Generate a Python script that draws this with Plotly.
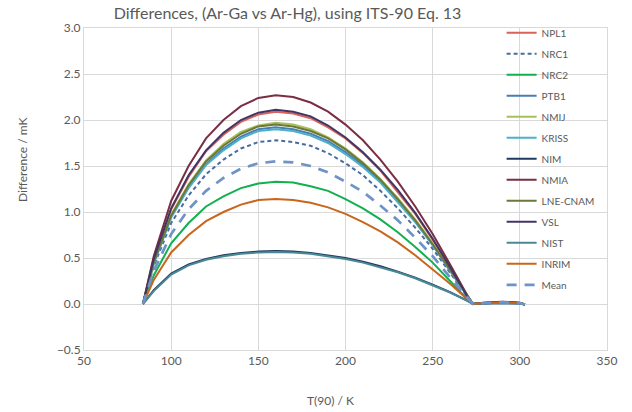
import plotly.graph_objects as go

# Temperature points, T(90) / K
T = [83.8058, 90, 100, 110, 120, 130, 140, 150, 160, 170, 180, 190, 200, 210,
     220, 230, 240, 250, 260, 270, 273.16, 280, 290, 300, 302.9146]

# Differences / mK
NPL1 = [0, 0.48, 1.03, 1.38, 1.66, 1.84, 1.98, 2.06, 2.09, 2.07, 2.02, 1.92, 1.80, 1.64,
        1.45, 1.22, 0.98, 0.70, 0.40, 0.08, 0, 0.01, 0.02, 0.01, -0.005]
NRC1 = [0, 0.41, 0.88, 1.18, 1.41, 1.57, 1.69, 1.76, 1.78, 1.76, 1.72, 1.64, 1.53, 1.40,
        1.23, 1.04, 0.83, 0.60, 0.34, 0.07, 0, 0.01, 0.02, 0.01, -0.005]
NRC2 = [0, 0.31, 0.66, 0.88, 1.06, 1.17, 1.26, 1.31, 1.33, 1.32, 1.28, 1.23, 1.14, 1.04,
        0.92, 0.78, 0.62, 0.45, 0.25, 0.05, 0, 0.01, 0.015, 0.01, -0.005]
PTB1 = [0, 0.44, 0.95, 1.27, 1.52, 1.69, 1.82, 1.90, 1.92, 1.90, 1.85, 1.77, 1.65, 1.51,
        1.33, 1.13, 0.90, 0.64, 0.36, 0.08, 0, 0.01, 0.02, 0.01, -0.005]
NMIJ = [0, 0.45, 0.97, 1.30, 1.56, 1.74, 1.87, 1.94, 1.97, 1.95, 1.90, 1.81, 1.69, 1.54,
        1.36, 1.15, 0.92, 0.66, 0.37, 0.08, 0, 0.01, 0.02, 0.01, -0.005]
KRISS = [0, 0.44, 0.94, 1.26, 1.51, 1.67, 1.80, 1.88, 1.90, 1.88, 1.83, 1.75, 1.63, 1.49,
         1.32, 1.11, 0.89, 0.64, 0.36, 0.08, 0, 0.01, 0.02, 0.01, -0.005]
NIM = [0, 0.15, 0.33, 0.43, 0.49, 0.53, 0.555, 0.57, 0.575, 0.57, 0.555, 0.53, 0.50, 0.46,
       0.41, 0.35, 0.285, 0.21, 0.13, 0.035, 0, 0.005, 0.01, 0.005, -0.005]
NMIA = [0, 0.52, 1.12, 1.50, 1.80, 2.00, 2.15, 2.24, 2.27, 2.25, 2.19, 2.09, 1.95, 1.78,
        1.57, 1.33, 1.06, 0.76, 0.43, 0.09, 0, 0.015, 0.025, 0.015, -0.005]
LNE_CNAM = [0, 0.45, 0.96, 1.29, 1.55, 1.72, 1.85, 1.93, 1.95, 1.93, 1.88, 1.80, 1.68, 1.53,
            1.35, 1.14, 0.91, 0.65, 0.37, 0.08, 0, 0.01, 0.02, 0.01, -0.005]
VSL = [0, 0.49, 1.04, 1.40, 1.67, 1.86, 2.00, 2.08, 2.11, 2.09, 2.04, 1.94, 1.81, 1.65,
       1.46, 1.24, 0.99, 0.71, 0.40, 0.08, 0, 0.01, 0.02, 0.01, -0.005]
NIST = [0, 0.14, 0.32, 0.42, 0.48, 0.52, 0.545, 0.56, 0.565, 0.56, 0.545, 0.52, 0.49, 0.45,
        0.40, 0.345, 0.28, 0.205, 0.125, 0.033, 0, 0.005, 0.01, 0.005, -0.005]
INRIM = [0, 0.26, 0.56, 0.75, 0.90, 1.00, 1.08, 1.13, 1.14, 1.13, 1.10, 1.05, 0.98, 0.89,
         0.79, 0.67, 0.53, 0.38, 0.22, 0.05, 0, 0.01, 0.015, 0.01, -0.005]
Mean = [0, 0.36, 0.76, 1.03, 1.23, 1.37, 1.47, 1.53, 1.55, 1.54, 1.50, 1.43, 1.33, 1.22,
        1.07, 0.91, 0.72, 0.52, 0.29, 0.06, 0, 0.01, 0.02, 0.01, -0.005]

series = [
    ("NPL1", NPL1, "#d9625c", "solid", 2),
    ("NRC1", NRC1, "#4a6c9e", "4px,3px", 2),
    ("NRC2", NRC2, "#12b050", "solid", 2),
    ("PTB1", PTB1, "#4a7db4", "solid", 2),
    ("NMIJ", NMIJ, "#a8c05c", "solid", 2),
    ("KRISS", KRISS, "#4cb0c8", "solid", 2),
    ("NIM", NIM, "#1f3a60", "solid", 2),
    ("NMIA", NMIA, "#7a2e44", "solid", 2),
    ("LNE-CNAM", LNE_CNAM, "#6b7838", "solid", 2),
    ("VSL", VSL, "#433466", "solid", 2),
    ("NIST", NIST, "#4a8896", "solid", 2),
    ("INRIM", INRIM, "#c8661c", "solid", 2),
    ("Mean", Mean, "#6e93c8", "10px,8px", 2.75),
]

fig = go.Figure()
for name, vals, color, dash, w in series:
    fig.add_trace(go.Scatter(x=T, y=vals, mode="lines", name=name, legendgroup=name,
                             line=dict(color=color, width=w, dash=dash)))

grey = "#595959"
grid = "#d9d9d9"
fig.update_layout(
    width=632, height=412,
    margin=dict(l=84, r=25, t=28, b=62),
    paper_bgcolor="white", plot_bgcolor="white",
    font=dict(family="Lato, Open Sans, sans-serif", color=grey, size=12),
    title=dict(text="Differences, (Ar-Ga vs Ar-Hg), using ITS-90 Eq. 13",
               x=0.455, xanchor="center", y=0.967, yanchor="middle",
               font=dict(size=16, color=grey)),
    showlegend=True,
    legend=dict(x=0.7985, xanchor="left", y=1.03, yanchor="top",
                bgcolor="rgba(0,0,0,0)", font=dict(size=10, color=grey),
                tracegroupgap=2, itemwidth=30, maxheight=1.0),
    xaxis=dict(range=[50, 350], dtick=50, showgrid=True, gridcolor=grid,
               showline=True, linecolor=grid, mirror=True, zeroline=False,
               ticks="", tickfont=dict(size=12, color=grey)),
    yaxis=dict(range=[-0.5, 3.0], dtick=0.5, tickformat=".1f", showgrid=True, gridcolor=grid,
               showline=True, linecolor=grid, mirror=True, zeroline=False,
               ticks="", tickfont=dict(size=12, color=grey)),
    annotations=[
        dict(text="T(90) / K", xref="paper", yref="paper",
             x=(330 - 84) / 523, y=-(400 - 350) / 322, xanchor="center", yanchor="middle",
             showarrow=False, font=dict(size=12, color=grey)),
        dict(text="Difference / mK", xref="paper", yref="paper", textangle=-90,
             x=-(84 - 22) / 523, y=(350 - 160) / 322, xanchor="center", yanchor="middle",
             showarrow=False, font=dict(size=12, color=grey)),
    ],
)

fig.write_html("out.html", config={"displayModeBar": False},
               post_script="document.body.style.margin='0px';")
